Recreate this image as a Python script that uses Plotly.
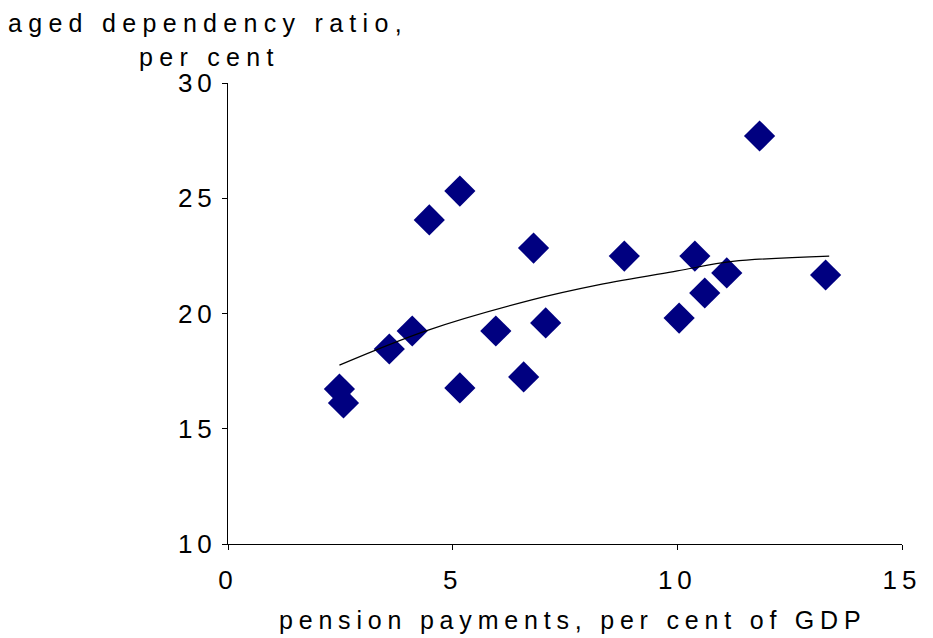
import plotly.graph_objects as go

# Scatter data
pension_pct_gdp = [2.48, 2.57, 3.59, 4.10, 4.48, 5.16, 5.16, 5.96, 6.58, 6.80,
                   7.07, 8.82, 10.04, 10.39, 10.61, 11.10, 11.83, 13.30]
aged_dependency = [16.72, 16.12, 18.46, 19.24, 24.06, 25.31, 16.77, 19.24, 17.25, 22.84,
                   19.59, 22.49, 19.80, 22.49, 20.89, 21.76, 27.70, 21.67]

# Trend line points
trend_x = [2.48, 4.44, 6.76, 8.24, 10.0, 11.23, 13.38]
trend_y = [17.76, 19.27, 20.59, 21.24, 21.85, 22.26, 22.49]

x_ticks = [0, 5, 10, 15]
y_ticks = [10, 15, 20, 25, 30]
x_tick_labels = ["0", "5", "10", "15"]
y_tick_labels = ["10", "15", "20", "25", "30"]

y_title_1 = "aged dependency ratio,"
y_title_2 = "per cent"
x_title = "pension payments, per cent of GDP"

font_family = "Liberation Sans, Arial, sans-serif"


def spaced(s, px):
    return '<span style="letter-spacing:%spx">%s</span>' % (px, s)


# page body has an 8px margin, so the figure is drawn 8px in from the window edges
W, H = 925, 630
l, r, t, b = 220, 25, 75, 94
pw, ph = W - l - r, H - t - b


def to_paper(px, py):
    return (px - l) / pw, 1 - (py - t) / ph


fig = go.Figure()
fig.add_trace(go.Scatter(
    x=pension_pct_gdp, y=aged_dependency, mode="markers",
    marker=dict(symbol="diamond", size=24, color="#000080", line=dict(width=0)),
    showlegend=False, hoverinfo="x+y"))
fig.add_trace(go.Scatter(
    x=trend_x, y=trend_y, mode="lines",
    line=dict(color="black", width=1.2, shape="spline"),
    showlegend=False, hoverinfo="skip"))

anns = []
for text, px, py, sp in [(y_title_1, 200, 15, 6.3), (y_title_2, 201, 49, 6.3),
                         (x_title, 568, 612, 5.8)]:
    ax, ay = to_paper(px, py)
    anns.append(dict(text=spaced(text, sp), x=ax, y=ay, xref="paper", yref="paper",
                     xanchor="center", yanchor="middle", showarrow=False,
                     font=dict(size=25, color="black", family=font_family)))

fig.update_layout(
    width=W, height=H,
    margin=dict(l=l, r=r, t=t, b=b),
    paper_bgcolor="white", plot_bgcolor="white",
    font=dict(family=font_family, size=25, color="black"),
    xaxis=dict(range=[0, 15], tickvals=x_ticks,
               ticktext=[spaced(s, 5) for s in x_tick_labels],
               showline=True, linecolor="black", linewidth=1, ticks="outside",
               ticklen=5, tickcolor="black", showgrid=False, zeroline=False,
               ticklabelstandoff=8, tickfont=dict(size=26)),
    yaxis=dict(range=[10, 30], tickvals=y_ticks,
               ticktext=[spaced(s, 5) for s in y_tick_labels],
               showline=True, linecolor="black", linewidth=1, ticks="outside",
               ticklen=5, tickcolor="black", showgrid=False, zeroline=False,
               tickfont=dict(size=26)),
    annotations=anns,
)

fig.write_html("out.html")
